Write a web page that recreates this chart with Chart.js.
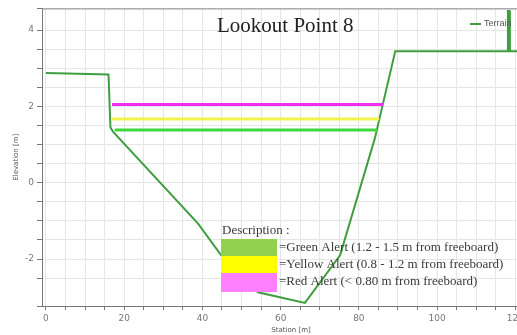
<!DOCTYPE html>
<html>
<head>
<meta charset="utf-8">
<script src="https://cdn.jsdelivr.net/npm/chart.js@4.4.0/dist/chart.umd.min.js"></script>
<style>
  html, body { margin: 0; padding: 0; background: #fff; overflow: hidden; }
  #wrap { width: 517px; height: 335px; overflow: hidden; }
</style>
</head>
<body>
<div id="wrap"><canvas id="chart" width="540" height="335"></canvas></div>
<script>
// Terrain profile (station m, elevation m)
const terrainX = [0, 16, 16.5, 17.2, 38.9, 45.0, 54.2, 59.8, 66.2, 75.2, 84.1, 89.3, 118.0, 118.1, 118.5, 118.6, 126.5];
const terrainY = [2.88, 2.84, 1.45, 1.33, -1.07, -1.93, -2.87, -3.0, -3.15, -1.9, 1.17, 3.45, 3.45, 4.5, 4.5, 3.45, 3.45];

// Alert levels
const redX = [16.9, 86.2];
const redLevel = 2.05;
const yellowX = [16.9, 85.2];
const yellowLevel = 1.67;
const greenX = [17.6, 84.7];
const greenLevel = 1.38;

// Axis labels
const xLabels = [0, 20, 40, 60, 80, 100, 120];
const yLabels = [-2, 0, 2, 4];
const xStep = 5;

const descTitle = 'Description :';
const descLines = [
    '=Green Alert (1.2 - 1.5 m from freeboard)',
    '=Yellow Alert (0.8 - 1.2 m from freeboard)',
    '=Red Alert (< 0.80 m from freeboard)'
];
const descColors = ['#92d050', '#ffff00', '#ff80ff'];

function pts(xs, ys) {
    return xs.map((x, i) => ({ x: x, y: Array.isArray(ys) ? ys[i] : ys }));
}

// Title, legend, description box and top border
const overlay = {
    id: 'overlay',
    afterDatasetsDraw(chart) {
        const ctx = chart.ctx;
        const a = chart.chartArea;
        ctx.save();
        // top border
        ctx.strokeStyle = '#8a8a8a';
        ctx.lineWidth = 1;
        ctx.beginPath();
        ctx.moveTo(a.left, a.top + 0.5);
        ctx.lineTo(a.right, a.top + 0.5);
        ctx.stroke();

        // title
        ctx.fillStyle = '#222';
        ctx.font = '21px "Liberation Serif", serif';
        ctx.textAlign = 'left';
        ctx.textBaseline = 'middle';
        ctx.fillText('Lookout Point 8', 217, 26);

        // legend
        ctx.strokeStyle = '#3f9f3f';
        ctx.lineWidth = 2;
        ctx.beginPath();
        ctx.moveTo(470, 24);
        ctx.lineTo(481, 24);
        ctx.stroke();
        ctx.fillStyle = '#555';
        ctx.font = '9px "Liberation Sans", sans-serif';
        ctx.fillText('Terrain', 484, 24);

        // description
        ctx.font = '13px "Liberation Serif", serif';
        ctx.fillStyle = '#3a3a3a';
        ctx.fillText(descTitle, 222, 231);
        const tops = [239, 256, 273];
        descColors.forEach((c, i) => {
            ctx.fillStyle = c;
            ctx.fillRect(221, tops[i], 56, i === 2 ? 19 : 17);
            ctx.fillStyle = '#3a3a3a';
            ctx.fillText(descLines[i], 279, tops[i] + 9);
        });
        ctx.restore();
    }
};

const gridColor = '#e6e6e6';

new Chart(document.getElementById('chart'), {
    type: 'scatter',
    data: {
        datasets: [
            {
                label: 'Red',
                data: pts(redX, redLevel),
                showLine: true,
                borderColor: '#ee30ee',
                borderWidth: 3,
                pointRadius: 0
            },
            {
                label: 'Yellow',
                data: pts(yellowX, yellowLevel),
                showLine: true,
                borderColor: '#f2f24a',
                borderWidth: 3,
                pointRadius: 0
            },
            {
                label: 'Green',
                data: pts(greenX, greenLevel),
                showLine: true,
                borderColor: '#3ed83e',
                borderWidth: 3,
                pointRadius: 0
            },
            {
                label: 'Terrain',
                data: pts(terrainX, terrainY),
                showLine: true,
                borderColor: '#3f9f3f',
                borderWidth: 2,
                pointRadius: 0,
                tension: 0
            }
        ]
    },
    options: {
        responsive: false,
        animation: false,
        devicePixelRatio: 1,
        layout: { padding: { top: 7, right: 0, left: 0, bottom: 0 } },
        plugins: {
            legend: { display: false },
            tooltip: { enabled: false }
        },
        scales: {
            x: {
                type: 'linear',
                min: -1,
                max: 126.3,
                afterFit: s => { s.height = 29; },
                afterBuildTicks: s => {
                    const t = [];
                    for (let v = 0; v <= s.max; v += xStep) t.push({ value: v });
                    s.ticks = t;
                },
                ticks: {
                    autoSkip: false,
                    maxRotation: 0,
                    padding: 3,
                    color: '#777',
                    font: { size: 9, family: 'DejaVu Sans' },
                    callback: v => xLabels.includes(v) ? v : ''
                },
                grid: { color: gridColor, tickColor: '#777', tickLength: 4 },
                border: { color: '#777' },
                title: {
                    display: true,
                    text: 'Station [m]',
                    color: '#555',
                    font: { size: 7, family: 'DejaVu Sans' },
                    padding: { top: 0, bottom: 1 }
                }
            },
            y: {
                type: 'linear',
                min: -3.23,
                max: 4.57,
                afterFit: s => { s.width = 42; },
                ticks: {
                    stepSize: 0.5,
                    autoSkip: false,
                    padding: 3,
                    color: '#777',
                    font: { size: 9, family: 'DejaVu Sans' },
                    callback: v => yLabels.includes(v) ? v : ''
                },
                grid: { color: gridColor, tickColor: '#777', tickLength: 5 },
                border: { color: '#777' },
                title: {
                    display: true,
                    text: 'Elevation [m]',
                    color: '#555',
                    font: { size: 7, family: 'DejaVu Sans' },
                    padding: { top: 12, bottom: 0 }
                }
            }
        }
    },
    plugins: [overlay]
});
</script>
</body>
</html>
